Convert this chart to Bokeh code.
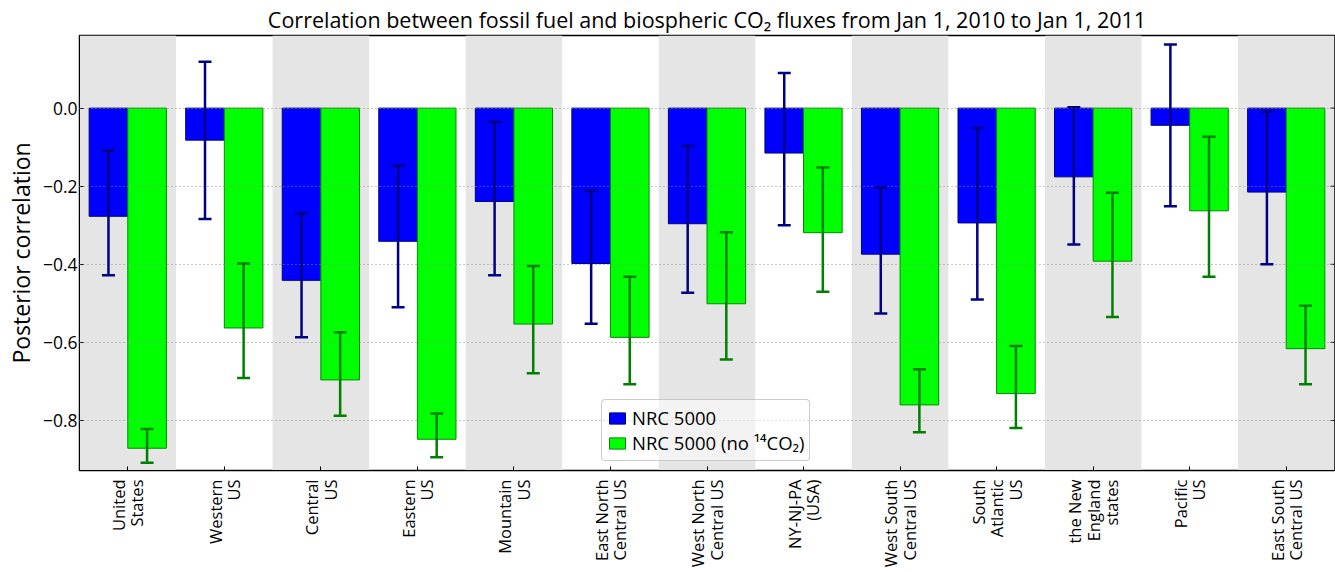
import math
from bokeh.plotting import figure
from bokeh.models import (ColumnDataSource, FactorRange, Range1d, FixedTicker,
                          Whisker, TeeHead, Legend, LegendItem)
from bokeh.transform import dodge
from bokeh.embed import file_html
from bokeh.resources import INLINE

# Regions (multi-line tick labels)
regions = ["United\nStates", "Western\nUS", "Central\nUS", "Eastern\nUS",
           "Mountain\nUS", "East North\nCentral US", "West North\nCentral US",
           "NY-NJ-PA\n(USA)", "West South\nCentral US", "South\nAtlantic\nUS",
           "the New\nEngland\nstates", "Pacific\nUS", "East South\nCentral US"]

# Posterior correlation, NRC 5000
nrc = [-0.277, -0.082, -0.441, -0.341, -0.239, -0.398, -0.296,
       -0.115, -0.374, -0.294, -0.176, -0.044, -0.215]
nrc_upper = [-0.109, 0.119, -0.270, -0.147, -0.035, -0.212, -0.097,
             0.090, -0.203, -0.051, 0.002, 0.163, -0.009]
nrc_lower = [-0.428, -0.284, -0.587, -0.510, -0.428, -0.552, -0.473,
             -0.300, -0.526, -0.490, -0.349, -0.251, -0.400]

# Posterior correlation, NRC 5000 without 14CO2
no14 = [-0.871, -0.563, -0.696, -0.848, -0.553, -0.587, -0.501,
        -0.319, -0.760, -0.731, -0.392, -0.263, -0.616]
no14_upper = [-0.822, -0.398, -0.574, -0.782, -0.404, -0.432, -0.318,
              -0.152, -0.669, -0.609, -0.217, -0.073, -0.506]
no14_lower = [-0.908, -0.691, -0.788, -0.894, -0.679, -0.707, -0.644,
              -0.470, -0.830, -0.819, -0.535, -0.432, -0.707]

y_ticks = [-0.8, -0.6, -0.4, -0.2, 0.0]
y_tick_labels = ["\u22120.8", "\u22120.6", "\u22120.4", "\u22120.2", "0.0"]

title = ("Correlation between fossil fuel and biospheric CO\u2082 fluxes "
         "from Jan 1, 2010 to Jan 1, 2011")
series_names = ["NRC 5000", "NRC 5000 (no \u00b9\u2074CO\u2082)"]

FONT = "Open Sans"

src = ColumnDataSource(dict(region=regions, nrc=nrc, nrc_hi=nrc_upper,
                            nrc_lo=nrc_lower, no14=no14, no14_hi=no14_upper,
                            no14_lo=no14_lower, zero=[0.0] * len(regions)))
band_src = ColumnDataSource(dict(region=regions[::2]))
edge_src = ColumnDataSource(dict(region=[regions[-1]] * len(y_ticks),
                                 y=y_ticks))

p = figure(width=1335, height=572, output_backend="svg", toolbar_location=None,
           x_range=FactorRange(*regions, range_padding=0),
           y_range=Range1d(-0.928, 0.186),
           min_border_left=79, min_border_right=1, min_border_top=35,
           min_border_bottom=102)

p.title.text = title
p.title.align = "center"
p.title.text_font = FONT
p.title.text_font_size = "21.5px"
p.title.text_font_style = "normal"
p.title.text_color = "black"
p.title.offset = 0
p.title.standoff = 3

# alternating shaded columns
p.vbar(x="region", top=10, bottom=-10, width=1.0, source=band_src,
       fill_color="#e5e5e5", line_color=None)

r1 = p.vbar(x=dodge("region", -0.2, range=p.x_range), top="zero", bottom="nrc",
            width=0.4, source=src, fill_color="#0000ff", line_color="#00007a",
            line_width=1)
r2 = p.vbar(x=dodge("region", 0.2, range=p.x_range), top="zero", bottom="no14",
            width=0.4, source=src, fill_color="#00ff00", line_color="#008a00",
            line_width=1)

for key, off, col in (("nrc", -0.2, "#000080"), ("no14", 0.2, "#007f00")):
    w = Whisker(source=src, base=dodge("region", off, range=p.x_range),
                upper=key + "_hi", lower=key + "_lo", dimension="height",
                line_color=col, line_width=2.5, level="overlay",
                upper_head=TeeHead(size=13, line_color=col, line_width=2.5),
                lower_head=TeeHead(size=13, line_color=col, line_width=2.5))
    p.add_layout(w)

# inward tick marks along the right edge of the frame
p.ray(x=dodge("region", 0.5, range=p.x_range), y="y", length=4,
      length_units="screen", angle=math.pi, source=edge_src,
      line_color="black", line_width=1)

# grid
p.xgrid.visible = False
p.ygrid.ticker = FixedTicker(ticks=y_ticks)
p.ygrid.grid_line_color = "#8c8c8c"
p.ygrid.grid_line_dash = "1 3"
p.ygrid.grid_line_width = 1
p.ygrid.level = "annotation"

# frame
p.outline_line_color = "black"
p.outline_line_width = 1.5
p.background_fill_color = "white"

# y axis
ya = p.yaxis[0]
ya.ticker = FixedTicker(ticks=y_ticks)
ya.major_label_overrides = dict(zip(y_ticks, y_tick_labels))
ya.major_label_text_font = FONT
ya.major_label_text_font_size = "17.5px"
ya.major_label_text_color = "black"
ya.major_tick_in = 4
ya.major_tick_out = 0
ya.minor_tick_line_color = None
ya.major_label_standoff = 2
ya.axis_label = "Posterior correlation"
ya.axis_label_text_font = FONT
ya.axis_label_text_font_size = "23px"
ya.axis_label_text_font_style = "normal"
ya.axis_label_text_color = "black"
ya.axis_label_standoff = 3
ya.axis_line_color = "black"

# x axis
xa = p.xaxis[0]
xa.major_label_orientation = math.pi / 2
xa.major_label_text_font = FONT
xa.major_label_text_font_size = "16.5px"
xa.major_label_text_color = "black"
xa.major_label_text_line_height = 0.8
xa.major_label_standoff = 9
xa.major_tick_in = 4
xa.major_tick_out = 0
xa.axis_line_color = "black"

legend = Legend(items=[LegendItem(label=series_names[0], renderers=[r1]),
                       LegendItem(label=series_names[1], renderers=[r2])],
                location=(522, 9))
legend.label_text_font = FONT
legend.label_text_font_size = "18.5px"
legend.label_text_color = "black"
legend.label_text_line_height = 1.0
legend.glyph_width = 20
legend.glyph_height = 14
legend.label_height = 18
legend.label_standoff = 5
legend.spacing = 0
legend.padding = 5
legend.margin = 0
legend.border_line_color = "#999999"
legend.border_line_width = 1
legend.border_radius = 4
legend.background_fill_color = "white"
legend.background_fill_alpha = 0.55
p.add_layout(legend, "center")

open("out.html", "w").write(file_html(p, INLINE))
